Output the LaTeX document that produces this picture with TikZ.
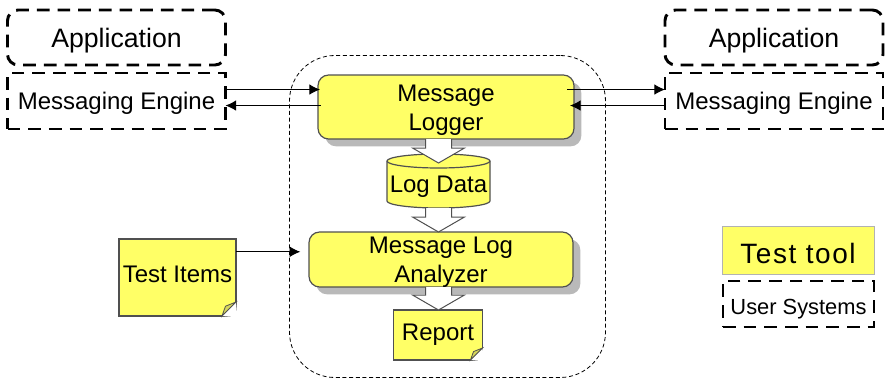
\documentclass[tikz,border=0pt]{standalone}
\usepackage{fontspec}
\setmainfont{Liberation Sans}
\usetikzlibrary{arrows.meta,calc,shadows}
\definecolor{toolyellow}{HTML}{FFFF66}
\definecolor{foldyellow}{HTML}{D6D65A}
\definecolor{edgegray}{HTML}{505050}
\tikzset{
  every node/.style={inner sep=0pt,outer sep=0pt,align=center,font=\fontsize{18}{22}\selectfont},
  usersys/.style={draw,line width=2.2pt,dash pattern=on 9.5pt off 6pt},
  softdrop/.style={drop shadow={shadow xshift=5.5pt,shadow yshift=-5.5pt,fill=gray!55,opacity=1}},
  toolbox/.style={draw=edgegray,line width=0.9pt,fill=toolyellow,rounded corners=8pt,softdrop},
  notebox/.style={draw=edgegray,line width=0.9pt,fill=toolyellow},
  msg/.style={line width=0.75pt,-{Latex[length=8pt,width=8pt]}}
}
\newcommand{\lowered}[2][2.25pt]{\raisebox{-#1}[\height][\depth]{#2}}
\newcommand{\foldcorner}[2]{
  \fill[white] ([xshift=-#2]#1.south east) -- ([yshift=#2]#1.south east) -- ([xshift=1pt,yshift=-1pt]#1.south east) -- cycle;
  \draw[edgegray,line width=0.6pt,fill=foldyellow] ([xshift=-#2]#1.south east) -- ([yshift=#2]#1.south east) -- ([xshift=-0.75*#2,yshift=0.7*#2]#1.south east) -- cycle;
}
\newcommand{\blockarrow}[3]{
  \coordinate (from) at (LogData.center |- #1.south);
  \coordinate (to) at ([yshift=#3]LogData.center |- #2.north);
  \draw[edgegray,line width=0.75pt,fill=white] ($(from)+(-13,0)$) -- ($(to)+(-13,-15)$) -- ($(to)+(-26,-15)$) -- (to) -- ($(to)+(26,-15)$) -- ($(to)+(13,-15)$) -- ($(from)+(13,0)$);
}
\begin{document}
\begin{tikzpicture}[x=0.75pt,y=-0.75pt]
  \useasboundingbox (0,0) rectangle (886,382);

  % tool boundary
  \node[draw,line width=0.6pt,dash pattern=on 3pt off 2pt,rounded corners=34pt,minimum width=237pt,minimum height=241.5pt] (Boundary) at (447.5,216.5) {};

  % user systems on both sides
  \node[usersys,rounded corners=8pt,minimum width=163.5pt,minimum height=41.25pt,font=\fontsize{20}{24}\selectfont] (AppLeft) at (116.5,37.5) {\lowered{Application}};
  \node[usersys,minimum width=163.5pt,minimum height=42pt] (EngineLeft) at (116.5,101) {\lowered[1.5pt]{Messaging Engine}};
  \node[usersys,rounded corners=8pt,minimum width=163.5pt,minimum height=41.25pt,font=\fontsize{20}{24}\selectfont] (AppRight) at (774,37.5) {\lowered{Application}};
  \node[usersys,minimum width=163.5pt,minimum height=42pt] (EngineRight) at (774,101) {\lowered[1.5pt]{Messaging Engine}};

  % test tool parts
  \node[toolbox,minimum width=192pt,minimum height=48pt] (Logger) at (446,107) {\lowered{Message}\\\lowered{Logger}};
  \draw[edgegray,line width=0.9pt,fill=toolyellow] (387,161) -- (387,201) arc[start angle=180,end angle=0,x radius=51.5,y radius=7] -- (490,161) arc[start angle=0,end angle=-180,x radius=51.5,y radius=7] -- cycle;
  \draw[edgegray,line width=0.9pt] (387,161) arc[start angle=180,end angle=0,x radius=51.5,y radius=7];
  \node[minimum width=77.25pt,minimum height=40.5pt] (LogData) at (438.5,181) {\lowered[4.5pt]{Log Data}};
  \node[toolbox,minimum width=198pt,minimum height=41.25pt] (Analyzer) at (441,259.5) {\lowered{Message Log}\\\lowered{Analyzer}};
  \node[notebox,minimum width=66.75pt,minimum height=37.5pt] (Report) at (438,335) {Report};
  \node[notebox,minimum width=87.75pt,minimum height=57.75pt] (TestItems) at (177.5,277.5) {\lowered[-2.25pt]{Test Items}};
  \foldcorner{Report}{9pt}
  \foldcorner{TestItems}{10.5pt}

  \blockarrow{Logger}{LogData}{-6.75pt}
  \blockarrow{LogData}{Analyzer}{0pt}
  \blockarrow{Analyzer}{Report}{0pt}

  % message flow
  \draw[msg] ([yshift=8.6pt]EngineLeft.east) -- ([yshift=8.6pt,xshift=1.5pt]EngineLeft.east -| Logger.west);
  \draw[msg] ([yshift=-3.4pt,xshift=2pt]EngineLeft.east -| Logger.west) -- ([yshift=-3.4pt]EngineLeft.east);
  \draw[msg] ([yshift=8.6pt,xshift=-5pt]EngineRight.west -| Logger.east) -- ([yshift=8.6pt]EngineRight.west);
  \draw[msg] ([yshift=-3.4pt]EngineRight.west) -- ([yshift=-3.4pt,xshift=-3pt]EngineRight.west -| Logger.east);
  \draw[msg] ([yshift=19.3pt]TestItems.east) -- ([yshift=19.3pt,xshift=-6.5pt]TestItems.east -| Analyzer.west);

  % legend
  \node[draw=gray!60,line width=0.6pt,fill=toolyellow,minimum width=114pt,minimum height=36pt,font=\fontsize{21}{26}\selectfont\addfontfeature{LetterSpace=5.7}] (ToolKey) at (798,250) {\lowered{Test tool}};
  \node[usersys,minimum width=113.25pt,minimum height=34.5pt,font=\fontsize{16.4}{20}\selectfont] (UserKey) at (798.5,304) {\lowered[3.75pt]{User Systems}};
\end{tikzpicture}
\end{document}
